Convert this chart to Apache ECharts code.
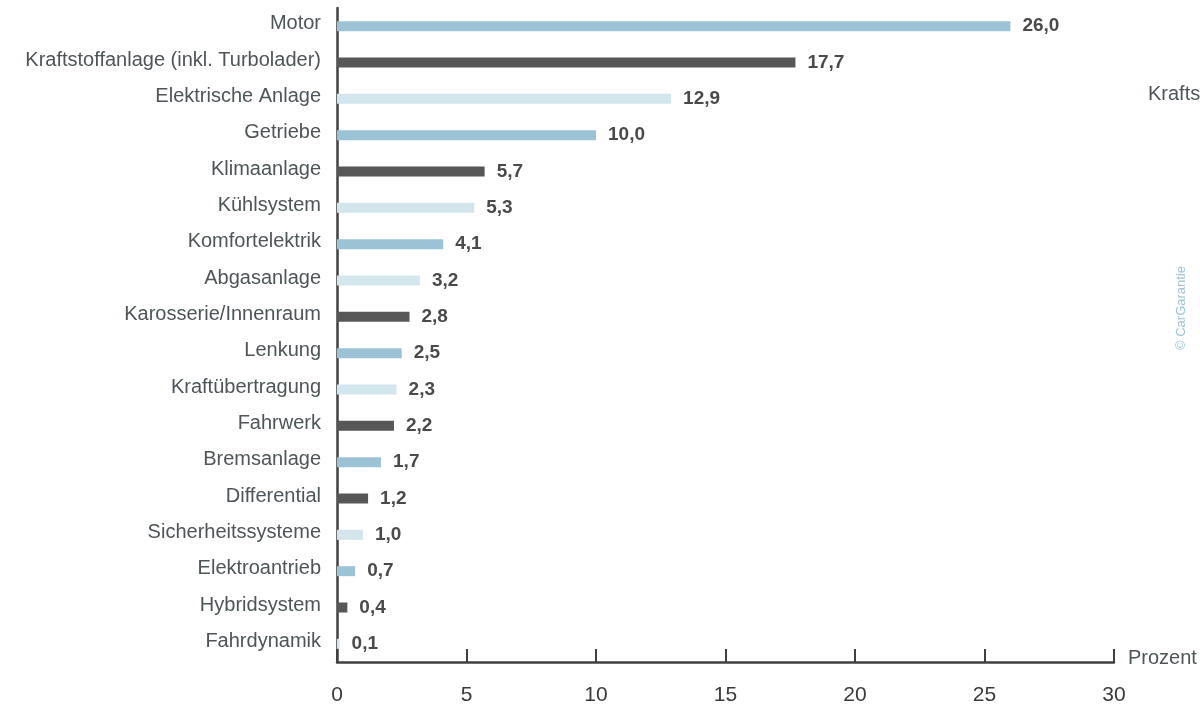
<!DOCTYPE html>
<html>
<head>
<meta charset="utf-8">
<script src="https://cdn.jsdelivr.net/npm/echarts@6/dist/echarts.min.js"></script>
<style>
html,body{margin:0;padding:0;background:#fff;}
#chart{width:1200px;height:710px;}
</style>
</head>
<body>
<div id="chart"></div>
<script>
const categories = [
  "Motor",
  "Kraftstoffanlage (inkl. Turbolader)",
  "Elektrische Anlage",
  "Getriebe",
  "Klimaanlage",
  "Kühlsystem",
  "Komfortelektrik",
  "Abgasanlage",
  "Karosserie/Innenraum",
  "Lenkung",
  "Kraftübertragung",
  "Fahrwerk",
  "Bremsanlage",
  "Differential",
  "Sicherheitssysteme",
  "Elektroantrieb",
  "Hybridsystem",
  "Fahrdynamik"
];
const values = [26.0, 17.7, 12.9, 10.0, 5.7, 5.3, 4.1, 3.2, 2.8, 2.5, 2.3, 2.2, 1.7, 1.2, 1.0, 0.7, 0.4, 0.1];
const xTicks = [0, 5, 10, 15, 20, 25, 30];
const axisUnit = "Prozent";
const sourceNote = "© CarGarantie";
const strayText = "Krafts";

const BLUE = "#9cc3d5", DARK = "#575757", LIGHT = "#d3e6ed";
const barColors = [BLUE, DARK, LIGHT, BLUE, DARK, LIGHT, BLUE, LIGHT, DARK, BLUE, LIGHT, DARK, BLUE, DARK, LIGHT, BLUE, DARK, LIGHT];

const chart = echarts.init(document.getElementById('chart'));
const fmt = v => v.toFixed(1).replace('.', ',');
const FF = 'Liberation Sans, Arial, sans-serif';

chart.setOption({
  animation: false,
  backgroundColor: '#fff',
  grid: { left: 337, right: 86, top: 8, bottom: 48, containLabel: false },
  xAxis: {
    type: 'value',
    min: xTicks[0],
    max: xTicks[xTicks.length - 1],
    interval: xTicks[1] - xTicks[0],
    axisLine: { show: true, lineStyle: { color: '#404040', width: 2.5 } },
    axisTick: { show: true, inside: true, length: 13, lineStyle: { color: '#404040', width: 2 } },
    splitLine: { show: false },
    axisLabel: { color: '#3a3a3a', fontSize: 21, margin: 23, fontFamily: FF }
  },
  yAxis: {
    type: 'category',
    data: categories,
    inverse: true,
    axisLine: { show: true, lineStyle: { color: '#404040', width: 2.5 } },
    axisTick: { show: false },
    axisLabel: {
      margin: 16,
      formatter: v => '{a|' + v + '}',
      rich: { a: { color: '#4d5558', fontSize: 20, fontFamily: FF, padding: [0, 0, 5, 0] } }
    }
  },
  series: [{
    type: 'bar',
    barWidth: 10,
    data: values.map((v, i) => ({ value: v, itemStyle: { color: barColors[i] } })),
    label: {
      show: true,
      position: 'right',
      distance: 12,
      formatter: p => fmt(p.value),
      color: '#4a4a4a',
      fontWeight: 'bold',
      fontSize: 19,
      fontFamily: FF
    }
  }],
  graphic: [
    { type: 'text', left: 1128, top: 648, style: { text: axisUnit, fill: '#4d5558', fontSize: 20, fontFamily: FF } },
    { type: 'text', left: 1148, top: 84, style: { text: strayText, fill: '#4d5558', fontSize: 20, fontFamily: FF } },
    { type: 'text', x: 1175, y: 350, rotation: Math.PI / 2, style: { text: sourceNote, fill: '#9cc3d5', fontSize: 13, fontFamily: FF, textVerticalAlign: 'top' } }
  ]
});
</script>
</body>
</html>
